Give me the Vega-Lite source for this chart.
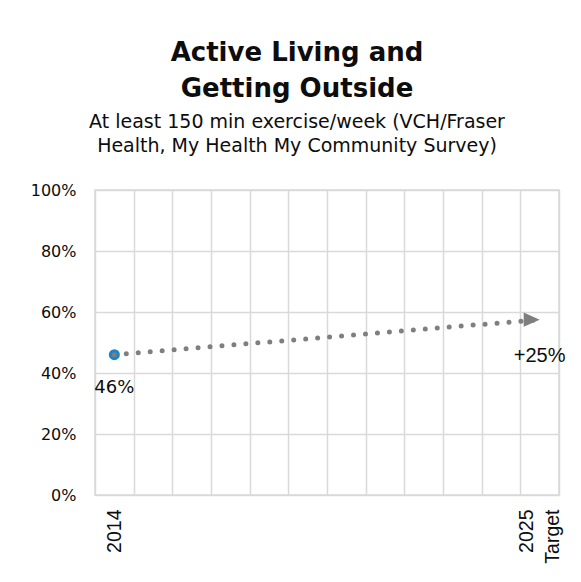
{
  "$schema": "https://vega.github.io/schema/vega-lite/v6.json",
  "autosize": "none",
  "width": 464,
  "height": 305,
  "padding": {"left": 95, "top": 190, "right": 22, "bottom": 87},
  "background": "white",
  "title": {
    "text": ["Active Living and", "Getting Outside"],
    "subtitle": ["At least 150 min exercise/week (VCH/Fraser", "Health, My Health My Community Survey)"],
    "anchor": "middle",
    "dx": -30,
    "offset": 26,
    "font": "DejaVu Sans",
    "fontSize": 26,
    "fontWeight": "bold",
    "lineHeight": 36,
    "color": "#0d0d0d",
    "subtitleFont": "DejaVu Sans",
    "subtitleFontSize": 19,
    "subtitleLineHeight": 24,
    "subtitleColor": "#0d0d0d",
    "subtitlePadding": 11
  },
  "data": {
    "values": [
      {"year": "2014", "value": 0.46, "label": "46%"},
      {"year": "2025 Target", "value": 0.575, "label": "+25%"}
    ]
  },
  "encoding": {
    "x": {
      "field": "year",
      "type": "nominal",
      "sort": null,
      "scale": {
        "domain": ["2014", "2015", "2016", "2017", "2018", "2019", "2020", "2021", "2022", "2023", "2024", "2025 Target"],
        "paddingInner": 0,
        "paddingOuter": 0
      },
      "axis": {
        "title": null,
        "labelAngle": -90,
        "labelAlign": "right",
        "labelBaseline": "middle",
        "labelPadding": 14,
        "labelOffset": {"condition": {"test": "datum.value == '2025 Target'", "value": -13}, "value": 0},
        "labelFont": "Liberation Sans",
        "labelFontSize": 19.5,
        "labelLineHeight": 26,
        "labelColor": "#0d0d0d",
        "labelOverlap": false,
        "labelExpr": "datum.value == '2014' ? '2014' : (datum.value == '2025 Target' ? ['2025', 'Target'] : '')",
        "ticks": false,
        "domain": false,
        "grid": true,
        "tickBand": "extent",
        "gridColor": "#d9d9d9",
        "gridWidth": 1.5
      }
    },
    "y": {
      "field": "value",
      "type": "quantitative",
      "scale": {"domain": [0, 1], "nice": false},
      "axis": {
        "title": null,
        "values": [0, 0.2, 0.4, 0.6, 0.8, 1],
        "format": ".0%",
        "labelFont": "DejaVu Sans",
        "labelFontSize": 16,
        "labelColor": "#0d0d0d",
        "labelPadding": 19,
        "ticks": false,
        "domain": false,
        "gridColor": "#d9d9d9",
        "gridWidth": 1.5
      }
    }
  },
  "layer": [
    {
      "mark": {"type": "line", "color": "#7f7f7f", "strokeWidth": 5, "strokeCap": "round", "strokeDash": [0, 12]}
    },
    {
      "transform": [{"filter": "datum.year == '2025 Target'"}],
      "mark": {"type": "point", "shape": "M-1,-0.44L0,0L-1,0.44Z", "size": 1024, "filled": true, "color": "#7f7f7f", "opacity": 1}
    },
    {
      "transform": [{"filter": "datum.year == '2014'"}],
      "mark": {"type": "point", "shape": "circle", "size": 65, "filled": true, "fill": "#7f7f7f", "stroke": "#1a86c9", "strokeWidth": 3, "opacity": 1}
    },
    {
      "transform": [{"filter": "datum.year == '2014'"}],
      "mark": {"type": "text", "font": "DejaVu Sans", "fontSize": 18, "color": "#0d0d0d", "dy": 33, "baseline": "middle", "align": "center"},
      "encoding": {"text": {"field": "label"}}
    },
    {
      "transform": [{"filter": "datum.year == '2025 Target'"}],
      "mark": {"type": "text", "font": "Liberation Sans", "fontSize": 20, "color": "#0d0d0d", "dy": 36, "baseline": "middle", "align": "center"},
      "encoding": {"text": {"field": "label"}}
    }
  ],
  "config": {
    "view": {"stroke": "#d9d9d9", "strokeWidth": 1.5}
  }
}
